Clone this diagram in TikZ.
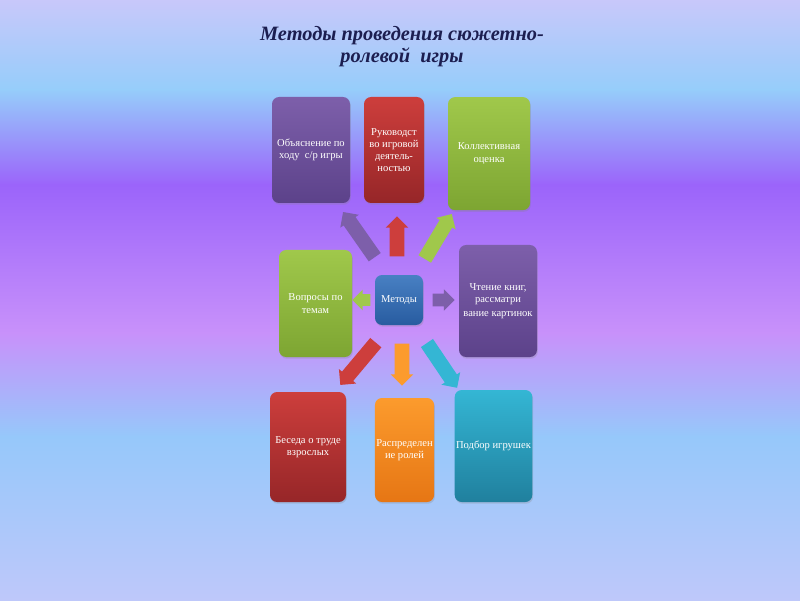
\documentclass[tikz,border=0pt]{standalone}
\usepackage{fontspec}
\setmainfont{Liberation Serif}
\usetikzlibrary{shapes.arrows,shadows}
\definecolor{bgA}{RGB}{200,200,250}
\definecolor{bgB}{RGB}{150,205,250}
\definecolor{bgC}{RGB}{155,100,250}
\definecolor{bgD}{RGB}{200,145,250}
\definecolor{bgE}{RGB}{150,200,250}
\definecolor{bgF}{RGB}{190,200,250}
\definecolor{metpurple}{RGB}{125,95,170}
\definecolor{metpurpledk}{RGB}{92,66,138}
\definecolor{metred}{RGB}{205,62,60}
\definecolor{metreddk}{RGB}{150,38,40}
\definecolor{metgreen}{RGB}{160,200,75}
\definecolor{metgreendk}{RGB}{125,165,50}
\definecolor{metblue}{RGB}{72,128,195}
\definecolor{metbluedk}{RGB}{40,92,160}
\definecolor{metorange}{RGB}{252,155,45}
\definecolor{metorangedk}{RGB}{230,118,20}
\definecolor{metteal}{RGB}{52,182,212}
\definecolor{mettealdk}{RGB}{32,128,158}
\definecolor{titlenavy}{RGB}{28,30,80}
\tikzset{
  methodbox/.style={rounded corners=5pt,inner sep=1pt,align=center,text=white,
    font=\fontsize{7.5}{8.7}\selectfont,
    drop shadow={shadow xshift=0.6pt,shadow yshift=-1.2pt,opacity=0.25}},
  blockarrow/.style={single arrow,inner xsep=0pt,inner ysep=0.175cm,
    single arrow head extend=0.1cm,single arrow head indent=0pt}
}
\begin{document}
\begin{tikzpicture}
  \useasboundingbox (0,0) rectangle (20,15);
  % background
  \shade[top color=bgA,bottom color=bgB] (0,12.75) rectangle (20,15);
  \shade[top color=bgB,bottom color=bgC] (0,10.375) rectangle (20,12.76);
  \shade[top color=bgC,bottom color=bgD] (0,6.675) rectangle (20,10.385);
  \shade[top color=bgD,bottom color=bgE] (0,4.075) rectangle (20,6.685);
  \shade[top color=bgE,bottom color=bgF] (0,0) rectangle (20,4.085);
  % title
  \node[titlenavy,align=center,font=\fontsize{14.5}{16}\selectfont\bfseries\itshape] (title) at (10.05,13.84)
    {Методы проведения сюжетно-\\ролевой\ \ игры};
  % boxes
  \node[methodbox,top color=metpurple,bottom color=metpurpledk,minimum width=1.95cm,minimum height=2.65cm] (obj) at (7.775,11.25) {Объяснение по\\ходу\ \ с/р игры};
  \node[methodbox,top color=metred,bottom color=metreddk,minimum width=1.5cm,minimum height=2.65cm] (ruk) at (9.85,11.25) {Руководст\\во игровой\\деятель-\\ностью};
  \node[methodbox,top color=metgreen,bottom color=metgreendk,minimum width=2.05cm,minimum height=2.825cm] (koll) at (12.225,11.16) {Коллективная\\оценка};
  \node[methodbox,top color=metgreen,bottom color=metgreendk,minimum width=1.825cm,minimum height=2.675cm] (vopr) at (7.8875,7.4125) {Вопросы по\\темам};
  \node[methodbox,top color=metblue,bottom color=metbluedk,minimum width=1.2cm,minimum height=1.25cm] (metody) at (9.975,7.5) {Методы};
  \node[methodbox,top color=metpurple,bottom color=metpurpledk,minimum width=1.95cm,minimum height=2.8cm] (chten) at (12.45,7.475) {Чтение книг,\\рассматри\\[1pt]вание картинок};
  \node[methodbox,top color=metred,bottom color=metreddk,minimum width=1.9cm,minimum height=2.75cm] (beseda) at (7.7,3.825) {Беседа о труде\\взрослых};
  \node[methodbox,top color=metorange,bottom color=metorangedk,minimum width=1.475cm,minimum height=2.6cm] (raspr) at (10.1125,3.75) {Распределен\\ие ролей};
  \node[methodbox,top color=metteal,bottom color=mettealdk,minimum width=1.825cm,minimum height=2.8cm] (podbor) at (12.3375,3.85) {Подбор игрушек};
  % arrows from the centre
  \node[blockarrow,fill=metpurple,minimum height=1.38cm,rotate=125] (arrobj) at (9.025,9.06) {};
  \node[blockarrow,fill=metred,minimum height=1cm,rotate=90] (arrruk) at (9.925,9.0) {};
  \node[blockarrow,fill=metgreen,minimum height=1.31cm,rotate=59] (arrkoll) at (10.91,9.01) {};
  \node[blockarrow,fill=metgreen,minimum height=0.45cm,inner ysep=0.14cm,single arrow head extend=0.11cm,rotate=180] (arrvopr) at (9.11,7.5) {};
  \node[blockarrow,fill=metpurple,minimum height=0.55cm,inner ysep=0.15cm,single arrow head extend=0.11cm,rotate=0] (arrchten) at (11.01,7.5) {};
  \node[blockarrow,fill=metred,minimum height=1.38cm,rotate=230] (arrbes) at (9.01,5.975) {};
  \node[blockarrow,fill=metorange,minimum height=1.05cm,rotate=270] (arrraspr) at (10.05,5.975) {};
  \node[blockarrow,fill=metteal,minimum height=1.35cm,rotate=-56] (arrpodb) at (11.0,5.94) {};
\end{tikzpicture}
\end{document}
